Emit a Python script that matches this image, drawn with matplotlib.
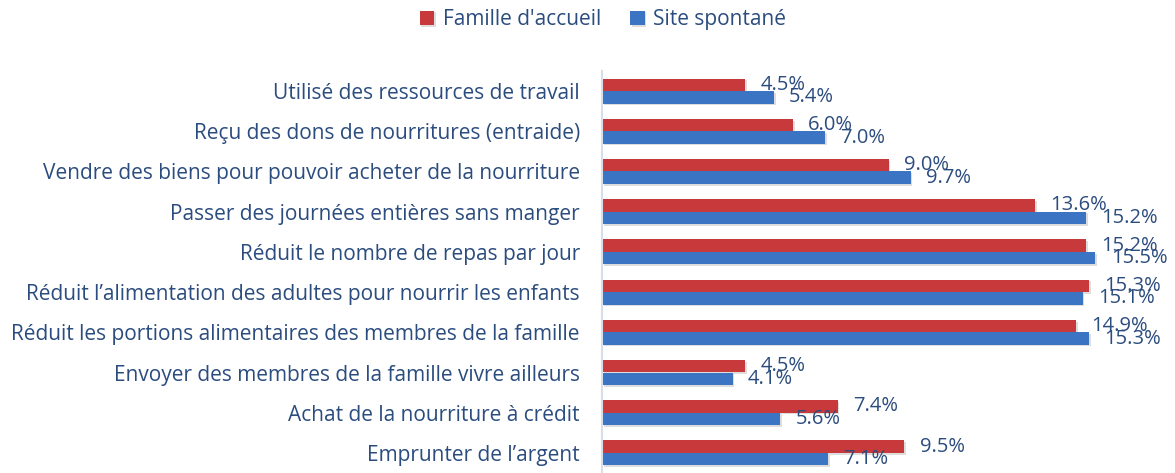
import numpy as np
import matplotlib.pyplot as plt
import matplotlib.patheffects as pe

categories = [
    "Utilisé des ressources de travail",
    "Reçu des dons de nourritures (entraide)",
    "Vendre des biens pour pouvoir acheter de la nourriture",
    "Passer des journées entières sans manger",
    "Réduit le nombre de repas par jour",
    "Réduit l\u2019alimentation des adultes pour nourrir les enfants",
    "Réduit les portions alimentaires des membres de la famille",
    "Envoyer des membres de la famille vivre ailleurs",
    "Achat de la nourriture à crédit",
    "Emprunter de l\u2019argent",
]
famille = [4.5, 6.0, 9.0, 13.6, 15.2, 15.3, 14.9, 4.5, 7.4, 9.5]
site = [5.4, 7.0, 9.7, 15.2, 15.5, 15.1, 15.3, 4.1, 5.6, 7.1]

red = '#C8393B'
blue = '#3B74C2'
txt = '#2B4C7E'

plt.rcParams['font.family'] = ['Open Sans', 'DejaVu Sans']

fig = plt.figure(figsize=(11.75, 4.73), dpi=100)
ax = fig.add_axes([602/1175, 0.0, 1 - 602/1175, 1 - 71/473])

y = np.arange(len(categories))
h = 0.31
shadow = [pe.SimplePatchShadow(offset=(1.2, -1.2), shadow_rgbFace='#AAAAAA', alpha=0.4), pe.Normal()]
b1 = ax.barh(y - h/2, famille, height=h, color=red, label="Famille d'accueil")
b2 = ax.barh(y + h/2, site, height=h, color=blue, label="Site spontané")
for r in list(b1) + list(b2):
    r.set_path_effects(shadow)

for yi, v in zip(y, famille):
    ax.annotate(f'{v:.1f}%', (v, yi - h/2), xytext=(11, 0), textcoords='offset points',
                ha='left', va='center', fontsize=14.5, color=txt)
for yi, v in zip(y, site):
    ax.annotate(f'{v:.1f}%', (v, yi + h/2), xytext=(11, 0), textcoords='offset points',
                ha='left', va='center', fontsize=14.5, color=txt)

ax.set_xlim(0, 18)
ax.set_ylim(len(categories) - 0.5, -0.5)
ax.set_yticks(y)
ax.set_yticklabels(categories, fontsize=15, color=txt)
ax.tick_params(axis='y', length=0, pad=16)
ax.set_xticks([])
for s in ['top', 'right', 'bottom']:
    ax.spines[s].set_visible(False)
ax.spines['left'].set_color('#D5DEEA')
ax.spines['left'].set_linewidth(1.5)

fig.legend(loc='upper center', bbox_to_anchor=(0.513, 1.02), ncol=2, frameon=False,
           fontsize=15, labelcolor=txt, handlelength=0.7, handleheight=0.7,
           handletextpad=0.4, columnspacing=1.4)

fig.savefig('out.png', dpi=100)
